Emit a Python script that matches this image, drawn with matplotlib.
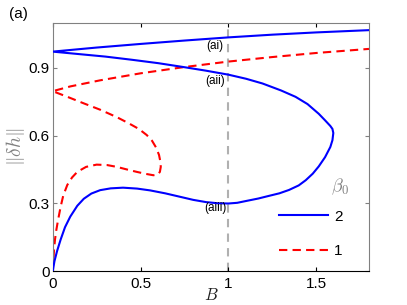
import matplotlib
matplotlib.use("Agg")
import matplotlib.pyplot as plt

plt.rcParams['font.family'] = ['Liberation Sans', 'DejaVu Sans']
plt.rcParams['mathtext.fontset'] = 'cm'

# beta0 = 2 branch (one continuous path)
B2 = [0.0, 0.01, 0.025, 0.045, 0.07, 0.10, 0.14, 0.177, 0.22, 0.27, 0.33, 0.40, 0.48, 0.554,
      0.64, 0.723, 0.80, 0.874, 0.94, 1.0, 1.05, 1.10, 1.17, 1.232, 1.29, 1.345, 1.40, 1.44,
      1.48, 1.514, 1.55, 1.58, 1.592, 1.597, 1.592, 1.58, 1.55, 1.514, 1.45, 1.382, 1.30,
      1.194, 1.10, 1.0, 0.87, 0.742, 0.60, 0.45, 0.30, 0.15, 0.0,
      0.25, 0.5, 0.75, 1.0, 1.25, 1.5, 1.8]
H2 = [0.0, 0.045, 0.09, 0.14, 0.195, 0.242, 0.29, 0.321, 0.344, 0.359, 0.367, 0.370, 0.366, 0.358,
      0.345, 0.330, 0.316, 0.306, 0.301, 0.300, 0.303, 0.311, 0.322, 0.334, 0.345, 0.360, 0.380, 0.403,
      0.432, 0.464, 0.505, 0.550, 0.580, 0.612, 0.630, 0.643, 0.668, 0.697, 0.740, 0.772, 0.800,
      0.831, 0.852, 0.870, 0.888, 0.904, 0.921, 0.936, 0.950, 0.961, 0.972,
      0.990, 1.006, 1.021, 1.035, 1.047, 1.057, 1.067]

# beta0 = 1 branch
B1 = [0.0, 0.004, 0.008, 0.013, 0.02, 0.03, 0.045, 0.06, 0.083, 0.11, 0.14, 0.19, 0.25, 0.31,
      0.365, 0.42, 0.478, 0.53, 0.573, 0.598, 0.610, 0.615, 0.613, 0.605, 0.588, 0.565, 0.535,
      0.49, 0.43, 0.365, 0.27, 0.177, 0.09, 0.0,
      0.1, 0.27, 0.5, 0.742, 1.0, 1.25, 1.5, 1.8]
H1 = [0.0, 0.05, 0.10, 0.14, 0.18, 0.225, 0.285, 0.335, 0.382, 0.415, 0.440, 0.462, 0.472, 0.470,
      0.462, 0.451, 0.440, 0.431, 0.425, 0.428, 0.440, 0.462, 0.484, 0.515, 0.548, 0.578, 0.603,
      0.630, 0.656, 0.682, 0.715, 0.743, 0.770, 0.797,
      0.818, 0.845, 0.876, 0.903, 0.928, 0.948, 0.966, 0.984]

labels = ['(ai)', '(aii)', '(aiii)']
label_B = [0.924, 0.924, 0.924]
label_H = [0.995, 0.842, 0.278]

xticks = [0, 0.5, 1, 1.5]
xticklabels = ['0', '0.5', '1', '1.5']
yticks = [0, 0.3, 0.6, 0.9]
yticklabels = ['0', '0.3', '0.6', '0.9']

grey = '#808080'

fig = plt.figure(figsize=(4.07, 3.05), dpi=100)
ax = fig.add_axes([0.1295, 0.1105, 0.7771, 0.8151])

ax.axvline(1.0, color='#b0b0b0', lw=1.5, ls=(0, (4, 3)), zorder=1)
l2, = ax.plot(B2, H2, color='#0000ff', lw=1.5, zorder=3)
l1, = ax.plot(B1, H1, color='#ff0000', lw=1.5, ls=(0, (4, 2.5)), zorder=2)

for t, x, y in zip(labels, label_B, label_H):
    ax.text(x, y, t, ha='center', va='center', fontsize=8.5, zorder=4)

ax.set_xlim(0, 1.8)
ax.set_ylim(0, 1.1)
ax.set_xticks(xticks)
ax.set_xticklabels(xticklabels)
ax.set_yticks(yticks)
ax.set_yticklabels(yticklabels)
ax.tick_params(direction='in', length=3, width=0.8, labelsize=11, colors=grey,
               labelcolor='black', top=True, right=True)
ax.tick_params(axis='x', pad=4, colors='black')
ax.tick_params(axis='y', pad=2)
for s in ['left', 'right', 'top']:
    ax.spines[s].set_color(grey)
ax.spines['bottom'].set_color('black')

ax.set_xlabel(r'$B$', fontsize=12, color='#202020', labelpad=-3)
ax.set_ylabel(r'$\Vert\delta h\Vert$', fontsize=14, color=grey, labelpad=1)

leg = ax.legend([l2, l1], ['2', '1'], frameon=False, fontsize=11,
                handlelength=3.2, handletextpad=0.4, labelspacing=1.35,
                loc='lower right', bbox_to_anchor=(0.94, 0.022), borderpad=0)
ax.text(0.908, 0.339, r'$\beta_0$', transform=ax.transAxes, fontsize=13, color=grey,
        ha='center', va='center')

fig.text(0.045, 0.955, '(a)', fontsize=11, ha='center', va='center')

fig.savefig('out.png', dpi=100)
